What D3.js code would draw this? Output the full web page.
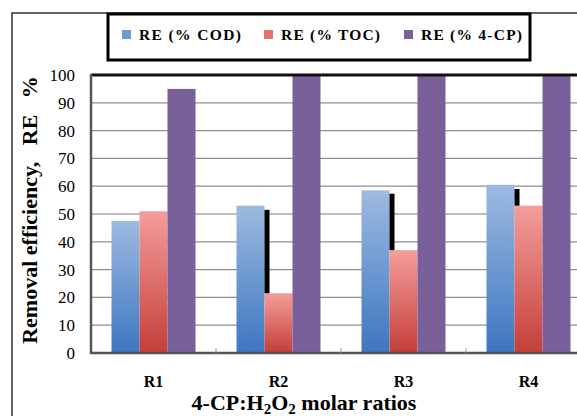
<!DOCTYPE html>
<html>
<head>
<meta charset="utf-8">
<script src="https://cdn.jsdelivr.net/npm/d3@7"></script>
<style>
  body { margin: 0; background: #fff; }
</style>
</head>
<body>
<div id="chart"></div>
<script>
// data
const categories = ["R1", "R2", "R3", "R4"];
const seriesNames = ["RE (% COD)", "RE (% TOC)", "RE (% 4-CP)"];
const codValues = [47.5, 53, 58.5, 60.5];
const tocValues = [51, 21.5, 37, 53];
const cpValues = [95, 100, 100, 100];
// odd black bars drawn from the TOC top upward
const blackTops = [null, 51.5, 57.3, 59];
const yTicks = [0, 10, 20, 30, 40, 50, 60, 70, 80, 90, 100];

const FONT = "Liberation Serif";
const W = 577, H = 416;
const svg = d3.select("#chart").append("svg")
    .attr("width", W)
    .attr("height", H);

const defs = svg.append("defs");
function grad(id, c1, c2) {
    let g = defs.append("linearGradient").attr("id", id)
        .attr("x1", 0).attr("y1", 0).attr("x2", 0).attr("y2", 1);
    g.append("stop").attr("offset", "0%").attr("stop-color", c1);
    g.append("stop").attr("offset", "100%").attr("stop-color", c2);
}
grad("gCod", "#9dbae1", "#3c76c0");
grad("gToc", "#f49e9b", "#c43e39");

const colors = ["url(#gCod)", "url(#gToc)", "#7a609b"];
const legendColors = ["#7199d1", "#e07370", "#7a609b"];

// outer frame
svg.append("path")
    .attr("d", "M12,416 L12,13 L577,13")
    .attr("fill", "none").attr("stroke", "#333").attr("stroke-width", 1.5);

const pLeft = 91, pRight = 591, pTop = 75, pBottom = 353;

const x = d3.scaleBand().domain(categories).range([pLeft, pRight])
    .paddingInner(0.328).paddingOuter(0.164);
const xs = d3.scaleBand().domain(d3.range(3)).range([0, x.bandwidth()]);
const y = d3.scaleLinear().domain([0, 100]).range([pBottom, pTop]);

// gridlines
svg.append("g").selectAll("line").data(yTicks.filter(d => d > 0 && d < 100)).enter()
    .append("line")
    .attr("x1", pLeft).attr("x2", pRight)
    .attr("y1", d => y(d)).attr("y2", d => y(d))
    .attr("stroke", d => d == 50 ? "#bdbdbd" : "#8f8f8f")
    .attr("stroke-width", d => d == 50 ? 2 : 1.3);

// bars
const rows = categories.map((c, i) => ({cat: c, vals: [codValues[i], tocValues[i], cpValues[i]], black: blackTops[i], toc: tocValues[i]}));

const groups = svg.append("g").selectAll("g").data(rows).enter()
    .append("g")
    .attr("transform", d => "translate(" + x(d.cat) + ",0)");

groups.selectAll("rect").data(d => d.vals).enter()
    .append("rect")
    .attr("x", (d, i) => xs(i))
    .attr("width", xs.bandwidth())
    .attr("y", d => y(d))
    .attr("height", d => y(0) - y(d))
    .attr("fill", (d, i) => colors[i]);

groups.filter(d => d.black != null)
    .append("rect")
    .attr("x", xs(1))
    .attr("width", 5)
    .attr("y", d => y(d.black))
    .attr("height", d => y(d.toc) - y(d.black))
    .attr("fill", "#000");

// axes frame
svg.append("line").attr("x1", pLeft).attr("x2", pRight).attr("y1", pTop).attr("y2", pTop)
    .attr("stroke", "#111").attr("stroke-width", 3);
svg.append("line").attr("x1", pLeft).attr("x2", pLeft).attr("y1", pTop - 1).attr("y2", pBottom + 1)
    .attr("stroke", "#555").attr("stroke-width", 2.5);
svg.append("line").attr("x1", pLeft - 1).attr("x2", pRight).attr("y1", pBottom).attr("y2", pBottom)
    .attr("stroke", "#555").attr("stroke-width", 2.5);

// small ticks on x axis between categories
svg.append("g").selectAll("line").data(categories.slice(1)).enter()
    .append("line")
    .attr("x1", d => x(d) - x.step() * 0.164).attr("x2", d => x(d) - x.step() * 0.164)
    .attr("y1", pBottom - 5).attr("y2", pBottom)
    .attr("stroke", "#999").attr("stroke-width", 1);

// y tick labels
svg.append("g").selectAll("text").data(yTicks).enter()
    .append("text")
    .attr("x", 75)
    .attr("y", d => y(d) + 6)
    .attr("text-anchor", "end")
    .attr("font-family", FONT)
    .attr("font-size", 17)
    .attr("fill", "#000")
    .text(d => d);

// x labels
svg.append("g").selectAll("text").data(categories).enter()
    .append("text")
    .attr("x", d => x(d) + x.bandwidth() / 2)
    .attr("y", 387)
    .attr("text-anchor", "middle")
    .attr("font-family", FONT)
    .attr("font-size", 16)
    .attr("font-weight", "bold")
    .text(d => d);

// axis titles
const xt = svg.append("text")
    .attr("x", 304).attr("y", 410)
    .attr("text-anchor", "middle")
    .attr("font-family", FONT)
    .attr("font-size", 22)
    .attr("font-weight", "bold");
xt.append("tspan").text("4-CP:H");
xt.append("tspan").attr("font-size", 15).attr("dy", 4).text("2");
xt.append("tspan").attr("dy", -4).text("O");
xt.append("tspan").attr("font-size", 15).attr("dy", 4).text("2");
xt.append("tspan").attr("dy", -4).text(" molar ratios");

svg.append("text")
    .attr("transform", "translate(37,210) rotate(-90)")
    .attr("text-anchor", "middle")
    .attr("font-family", FONT)
    .attr("font-size", 22)
    .attr("font-weight", "bold")
    .style("white-space", "pre")
    .text("Removal efficiency,   RE   %");

// legend
svg.append("rect")
    .attr("x", 108).attr("y", 14)
    .attr("width", 422).attr("height", 46)
    .attr("fill", "#fff").attr("stroke", "#000").attr("stroke-width", 3);

const legX = [122, 264, 404];
const legW = [102, 99, 101];
const leg = svg.append("g").selectAll("g").data(seriesNames).enter()
    .append("g")
    .attr("transform", (d, i) => "translate(" + legX[i] + ",30)");
leg.append("rect").attr("width", 9).attr("height", 9).attr("fill", (d, i) => legendColors[i]);
leg.append("text")
    .attr("x", 17).attr("y", 10)
    .attr("font-family", FONT)
    .attr("font-size", 15.5)
    .attr("font-weight", "bold")
    .attr("textLength", (d, i) => legW[i])
    .attr("lengthAdjust", "spacing")
    .text(d => d);
</script>
</body>
</html>
